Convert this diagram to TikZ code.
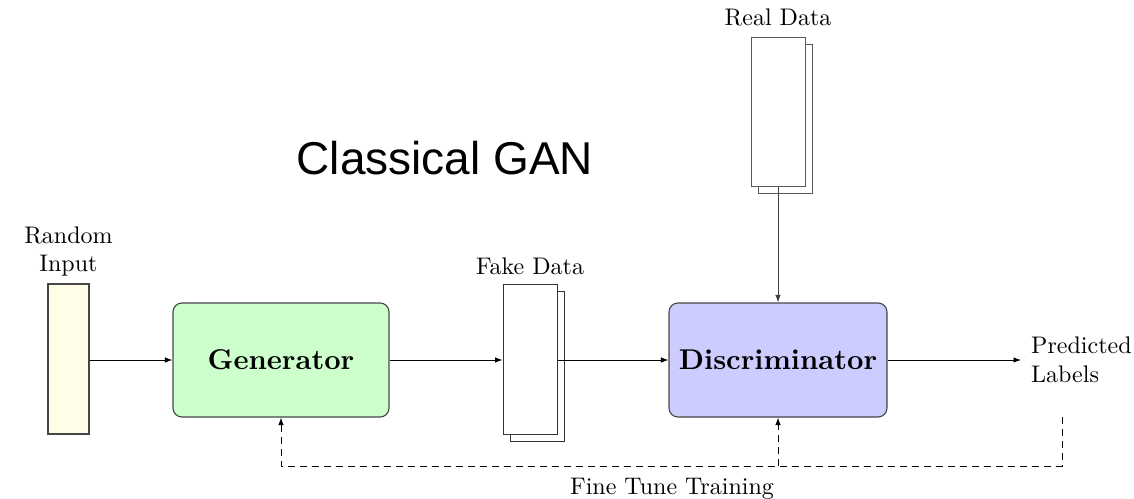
\documentclass[tikz,border=0pt]{standalone}
\usepackage{fontspec}
\setmainfont{lmroman10-regular.otf}[BoldFont=lmroman10-bold.otf]
\newfontfamily\titlefont{Liberation Sans}
\usetikzlibrary{arrows.meta,positioning}

\definecolor{inputfill}{RGB}{255,253,232}
\definecolor{genfill}{RGB}{204,255,204}
\definecolor{discfill}{RGB}{204,204,255}
\definecolor{edgegray}{RGB}{70,70,70}

\tikzset{
  txt/.style={font=\fontsize{24}{28.5}\selectfont, inner sep=0pt},
  netbox/.style={draw=edgegray, line width=1.1pt, rounded corners=9pt,
    minimum width=216pt, minimum height=114pt,
    font=\fontsize{28.6}{34}\selectfont\bfseries},
  vecbox/.style={draw=edgegray, line width=1.1pt, minimum width=41pt, minimum height=150pt},
  sheet/.style={draw=black!80, line width=1pt, fill=white, minimum width=54pt, minimum height=150pt},
  flow/.style={line width=0.9pt, -{Latex[length=7.5pt,width=5.5pt]}},
  feedback/.style={line width=0.9pt, dash pattern=on 7pt off 5pt, -{Latex[length=7.5pt,width=5.5pt]}},
}

\begin{document}
\begin{tikzpicture}[x=1pt,y=-1pt]
  \useasboundingbox (0,0) rectangle (1134,498);

  % title
  \node[inner sep=0pt, anchor=base, font=\titlefont\fontsize{46}{50}\selectfont] (title) at (445,174) {Classical GAN};

  % random input vector
  \node[vecbox, fill=inputfill] (rin) at (68.5,359) {};
  \node[txt, align=center, above=7pt of rin] (rinlbl) {Random\\Input};

  % generator
  \node[netbox, fill=genfill] (gen) at (281,360) {Generator};

  % fake data stack
  \node[sheet] (fakeback) at (537,366) {};
  \node[sheet] (fake) at (530,359) {};
  \node[txt, above=9pt of fake] (fakelbl) {Fake Data};

  % real data stack
  \node[sheet, draw=black!65, minimum height=149pt] (realback) at (785,118.5) {};
  \node[sheet, draw=black!65, minimum height=149pt] (real) at (778,111.5) {};
  \node[txt, above=10pt of real] (reallbl) {Real Data};

  % discriminator
  \node[netbox, fill=discfill, minimum width=218pt] (disc) at (778,360) {Discriminator};

  % output labels
  \node[txt, align=left, anchor=west, inner xsep=10pt] (pred) at (1021,360) {Predicted\\Labels};

  % forward flow
  \draw[flow] (rin.east |- gen.west) -- (gen.west);
  \draw[flow] (gen.east) -- (fake.west |- gen.east);
  \draw[flow] (fake.east |- disc.west) -- (disc.west);
  \draw[flow, black!75] (real.south) -- (disc.north);
  \draw[flow] (disc.east) -- (pred.west);

  % fine tune feedback loop
  \coordinate (fbstart) at (1062,417);
  \coordinate (fbcorner) at (1062,466);
  \draw[feedback] (fbstart) -- (fbcorner) -| (gen.south);
  \draw[feedback] (disc.south |- fbcorner) -- (disc.south);
  \node[txt] (ftlbl) at (672,489) {Fine Tune Training};
\end{tikzpicture}
\end{document}
